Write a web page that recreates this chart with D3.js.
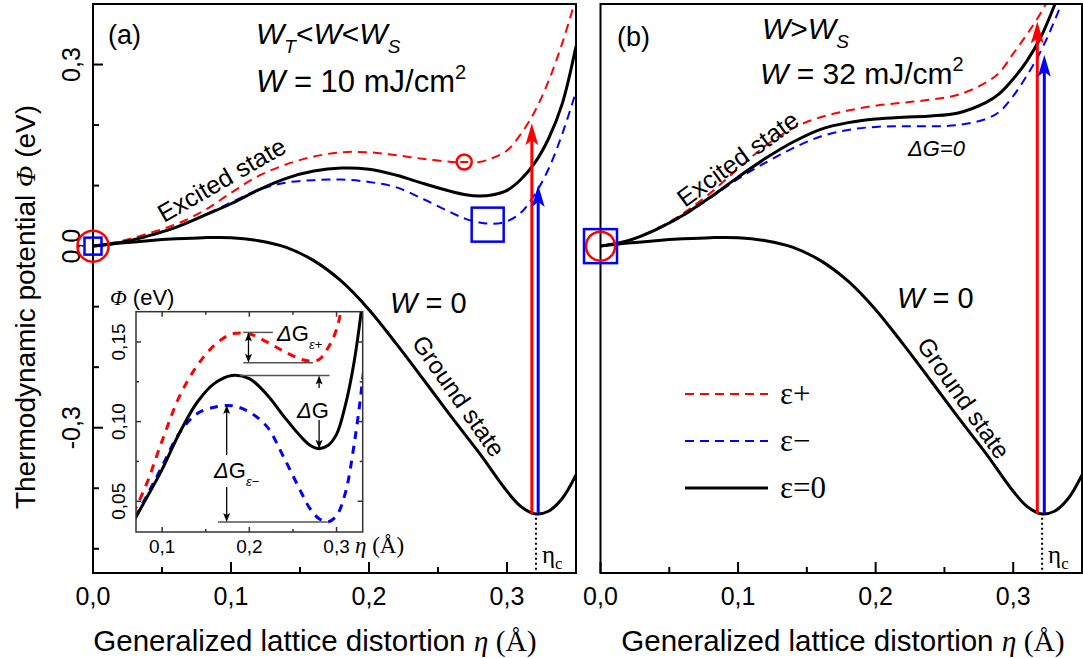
<!DOCTYPE html>
<html><head><meta charset="utf-8">
<script src="https://cdn.jsdelivr.net/npm/d3@7"></script>
<style>
body{margin:0;background:#fff;}
svg{display:block;font-family:"Liberation Sans",Arial,sans-serif;}
</style></head><body>
<svg id="c" width="1083" height="658"></svg>
<script>
// ---------------- DATA ----------------
const etaGround = [0,0.02,0.04,0.06,0.08,0.10,0.12,0.14,0.16,0.18,0.20,0.22,0.24,0.26,0.28,0.30,0.31,0.32,0.33,0.34,0.35];
const phiGround = [0,0.005,0.009,0.012,0.014,0.014,0.009,-0.002,-0.024,-0.058,-0.105,-0.162,-0.222,-0.283,-0.342,-0.405,-0.430,-0.442,-0.438,-0.417,-0.378];

const etaExcA = [0,0.02,0.04,0.06,0.08,0.10,0.12,0.14,0.16,0.18,0.20,0.22,0.24,0.26,0.27,0.28,0.29,0.30,0.31,0.32,0.33,0.34,0.35];
const phiExcA0     = [0,0.006,0.017,0.031,0.050,0.070,0.093,0.112,0.124,0.129,0.127,0.117,0.103,0.090,0.085,0.083,0.085,0.092,0.110,0.137,0.177,0.235,0.330];
const phiExcAplus  = [0,0.008,0.021,0.036,0.058,0.088,0.116,0.135,0.148,0.155,0.155,0.150,0.144,0.139,0.138,0.139,0.146,0.158,0.185,0.222,0.272,0.335,0.410];
const phiExcAminus = [0,0.006,0.016,0.031,0.051,0.072,0.093,0.105,0.109,0.110,0.106,0.097,0.077,0.055,0.045,0.039,0.037,0.041,0.055,0.085,0.127,0.185,0.255];

const etaExcB = [0,0.02,0.04,0.06,0.08,0.10,0.12,0.14,0.16,0.18,0.20,0.22,0.24,0.26,0.28,0.29,0.30,0.31,0.32,0.33,0.34,0.35];
const phiExcB0     = [0,0.009,0.027,0.051,0.081,0.114,0.145,0.172,0.193,0.204,0.210,0.213,0.215,0.220,0.237,0.252,0.276,0.306,0.345,0.398,0.460,0.530];
const phiExcBplus  = [0,0.009,0.028,0.054,0.088,0.128,0.166,0.195,0.213,0.224,0.232,0.237,0.242,0.250,0.270,0.287,0.318,0.350,0.385,0.430,0.500,0.570];
const phiExcBminus = [0,0.009,0.027,0.050,0.080,0.111,0.138,0.162,0.181,0.192,0.197,0.198,0.198,0.200,0.210,0.222,0.248,0.282,0.322,0.372,0.430,0.500];

const xTicksMajor = [0,0.1,0.2,0.3];
const xTicksMinor = [0.05,0.15,0.25];
const yTicksMajor = [-0.3,0,0.3];
const yTicksMinor = [-0.5,-0.4,-0.2,-0.1,0.1,0.2];
const insetXMajor = [0.1,0.2,0.3];
const insetXMinor = [0.15,0.25];
const insetYMajor = [0.05,0.10,0.15];
const insetYMinor = [0.075,0.125];

const etaC = 0.321, phiC = -0.442;
const arrowsA = [{eta:0.318, top:0.203, c:"#ff0000"}, {eta:0.3226, top:0.101, c:"#0000ff"}];
const arrowsB = [{eta:0.3175, top:0.371, c:"#ff0000"}, {eta:0.3226, top:0.316, c:"#0000ff"}];
const markA = {circle:[0.269,0.139], square:[0.286,0.0355]};

// inset ΔG levels
const dGplus = {eta:0.199, hi:0.156, lo:0.137, x0:0.193, x1hi:0.227, x1lo:0.273};
const dG0 = {eta:0.280, hi:0.129, lo:0.083, x0:0.189, x1:0.292};
const dGminus = {eta:0.174, hi:0.1105, lo:0.037, x0:0.164, x1:0.290};

// ---------------- SCALES ----------------
const RED="#ff0000", BLUE="#0000ff";
const svg = d3.select("#c");
const y = d3.scaleLinear().domain([-0.54,0.40]).range([573,4]);
const xA = d3.scaleLinear().domain([0,0.35]).range([93,576]);
const xB = d3.scaleLinear().domain([0,0.35]).range([600.5,1082]);
const xI = d3.scaleLinear().domain([0.07,0.33]).range([136,362.7]);
const yI = d3.scaleLinear().domain([0.0307,0.169]).range([532,311.7]);
const loc = d3.formatLocale({decimal:",",thousands:".",grouping:[3],currency:["",""],minus:"-"});
const f1 = loc.format(".1f"), f2 = loc.format(".2f");
const zip = (a,b)=>a.map((v,i)=>[v,b[i]]);

const defs = svg.append("defs");
function clip(id,x0,y0,x1,y1){
  defs.append("clipPath").attr("id",id).append("rect").attr("x",x0).attr("y",y0).attr("width",x1-x0).attr("height",y1-y0);
}
clip("cA",93,4,576,573); clip("cB",600.5,4,1082,573); clip("cI",136,311.7,362.7,532);

function curve(g,x,yy,data,color,w,dash,clipId){
  const line = d3.line().x(d=>x(d[0])).y(d=>yy(d[1])).curve(d3.curveCatmullRom.alpha(0.5));
  g.append("path").attr("d",line(data)).attr("fill","none").attr("stroke",color)
   .attr("stroke-width",w).attr("stroke-dasharray",dash||null).attr("clip-path",`url(#${clipId})`);
}
function head(g,x,yt,dir,color,len,hw,notch){
  const b = yt+dir*len, n = yt+dir*(len-notch);
  g.append("path").attr("d",`M${x},${yt}L${x-hw},${b}L${x},${n}L${x+hw},${b}Z`).attr("fill",color);
}

function panel(x,clipId,excX,e0,ep,em,arrows,titleCx){
  const g = svg.append("g");
  curve(g,x,y,zip(etaGround,phiGround),"#000",3,null,clipId);
  curve(g,x,y,zip(excX,ep),RED,2,"9,6",clipId);
  curve(g,x,y,zip(excX,em),BLUE,2,"9,6",clipId);
  curve(g,x,y,zip(excX,e0),"#000",3,null,clipId);
  arrows.forEach(a=>{
    g.append("line").attr("x1",x(a.eta)).attr("x2",x(a.eta)).attr("y1",y(phiC)).attr("y2",y(a.top)+15)
      .attr("stroke",a.c).attr("stroke-width",3);
    head(g,x(a.eta),y(a.top),1,a.c,22,6.5,5);
  });
  g.append("line").attr("x1",x(etaC)).attr("x2",x(etaC)).attr("y1",y(phiC)+4).attr("y2",573)
    .attr("stroke","#000").attr("stroke-width",2).attr("stroke-dasharray","2,3");
  const t = g.append("text").attr("x",x(etaC)+6).attr("y",563).attr("font-family","Liberation Serif").attr("font-size",25);
  t.append("tspan").text("η");
  t.append("tspan").attr("dy",6).attr("font-size",17).text("c");
  const [r0,r1] = x.range();
  g.append("rect").attr("x",r0).attr("y",4).attr("width",r1-r0).attr("height",569)
    .attr("fill","none").attr("stroke","#000").attr("stroke-width",2);
  xTicksMajor.forEach(v=>g.append("line").attr("x1",x(v)).attr("x2",x(v)).attr("y1",573).attr("y2",562).attr("stroke","#000").attr("stroke-width",2));
  xTicksMinor.forEach(v=>g.append("line").attr("x1",x(v)).attr("x2",x(v)).attr("y1",573).attr("y2",567).attr("stroke","#000").attr("stroke-width",2));
  xTicksMajor.forEach(v=>g.append("text").attr("x",x(v)).attr("y",605).attr("text-anchor","middle").attr("font-size",25).text(f1(v)));
  const xt = g.append("text").attr("x",titleCx).attr("y",651).attr("text-anchor","middle").attr("font-size",29.5);
  xt.append("tspan").text("Generalized lattice distortion ");
  xt.append("tspan").attr("font-family","Liberation Serif").attr("font-style","italic").text("η");
  xt.append("tspan").attr("font-family","Liberation Serif").text(" (Å)");
  return g;
}

const gA = panel(xA,"cA",etaExcA,phiExcA0,phiExcAplus,phiExcAminus,arrowsA,315);
const gB = panel(xB,"cB",etaExcB,phiExcB0,phiExcBplus,phiExcBminus,arrowsB,843);

yTicksMajor.forEach(v=>gA.append("line").attr("x1",93).attr("x2",103).attr("y1",y(v)).attr("y2",y(v)).attr("stroke","#000").attr("stroke-width",2));
yTicksMinor.forEach(v=>gA.append("line").attr("x1",93).attr("x2",99).attr("y1",y(v)).attr("y2",y(v)).attr("stroke","#000").attr("stroke-width",2));
yTicksMajor.forEach(v=>gA.append("text").attr("transform",`translate(80,${y(v)}) rotate(-90)`).attr("text-anchor","middle").attr("font-size",25).text(f1(v)));
const yt = svg.append("text").attr("transform",`translate(35,307) rotate(-90)`).attr("text-anchor","middle").attr("font-size",28);
yt.append("tspan").text("Thermodynamic potential ");
yt.append("tspan").attr("font-family","Liberation Serif").attr("font-style","italic").text("Φ");
yt.append("tspan").text(" (eV)");

// markers at origin
svg.append("circle").attr("cx",xA(0)).attr("cy",y(0)).attr("r",15.5).attr("fill","none").attr("stroke",RED).attr("stroke-width",2.5);
svg.append("rect").attr("x",xA(0)-8.5).attr("y",y(0)-8.5).attr("width",17).attr("height",17).attr("fill","none").attr("stroke",BLUE).attr("stroke-width",2.5);
svg.append("rect").attr("x",xB(0)-16.5).attr("y",y(0)-17).attr("width",33).attr("height",34).attr("fill","none").attr("stroke",BLUE).attr("stroke-width",2.5);
svg.append("circle").attr("cx",xB(0)).attr("cy",y(0)).attr("r",14.5).attr("fill","none").attr("stroke",RED).attr("stroke-width",2.5);
// markers panel a
svg.append("circle").attr("cx",xA(markA.circle[0])).attr("cy",y(markA.circle[1])).attr("r",7.5).attr("fill","#fff").attr("stroke",RED).attr("stroke-width",2.5);
svg.append("line").attr("x1",xA(markA.circle[0])-4).attr("x2",xA(markA.circle[0])+4).attr("y1",y(markA.circle[1])).attr("y2",y(markA.circle[1])).attr("stroke",RED).attr("stroke-width",2);
svg.append("rect").attr("x",xA(markA.square[0])-16).attr("y",y(markA.square[1])-17).attr("width",32).attr("height",34).attr("fill","none").attr("stroke",BLUE).attr("stroke-width",2.5);

// ---------- texts ----------
function txt(x,yv,size,parts,extra){
  const t = svg.append("text").attr("x",x).attr("y",yv).attr("font-size",size);
  if(extra) t.attr("transform",extra);
  parts.forEach(p=>{
    const s = t.append("tspan").text(p.t);
    if(p.i) s.attr("font-style","italic");
    if(p.s) s.attr("font-size",p.s);
    if(p.dy) s.attr("dy",p.dy);
    if(p.f) s.attr("font-family",p.f);
  });
  return t;
}
txt(108,44,27,[{t:"(a)"}]);
txt(617,46,27,[{t:"(b)"}]);
txt(256,44,30,[{t:"W",i:1},{t:"T",i:1,s:19,dy:9},{t:"<",dy:-9},{t:"W",i:1},{t:"<"},{t:"W",i:1},{t:"S",i:1,s:19,dy:9}]);
txt(256,92,31,[{t:"W",i:1},{t:" = 10 mJ/cm"},{t:"2",s:20,dy:-13}]);
txt(762,39,30,[{t:"W",i:1},{t:">"},{t:"W",i:1},{t:"S",i:1,s:19,dy:9}]);
txt(760,84,30,[{t:"W",i:1},{t:" = 32 mJ/cm"},{t:"2",s:20,dy:-13}]);
txt(390,313,29,[{t:"W",i:1},{t:" = 0"}]);
txt(897,308,29,[{t:"W",i:1},{t:" = 0"}]);
txt(0,0,25,[{t:"Excited state"}],"translate(164,223) rotate(-30)");
txt(0,0,25,[{t:"Excited state"}],"translate(685,208) rotate(-36)");
txt(0,0,24.5,[{t:"Ground state"}],"translate(411,343) rotate(55)");
txt(0,0,24.5,[{t:"Ground state"}],"translate(916,345) rotate(55)");
txt(908,156,22,[{t:"ΔG=0",i:1}]);

// legend
const legend = [{c:RED,d:"9,6",l:"ε+"},{c:BLUE,d:"9,6",l:"ε−"},{c:"#000",d:null,l:"ε=0"}];
legend.forEach((e,i)=>{
  const yy = 394+i*47;
  svg.append("line").attr("x1",685).attr("x2",768).attr("y1",yy).attr("y2",yy).attr("stroke",e.c)
    .attr("stroke-width",e.d?2:3).attr("stroke-dasharray",e.d);
  svg.append("text").attr("x",780).attr("y",yy+10).attr("font-family","Liberation Serif").attr("font-size",31).text(e.l);
});

// ---------- inset ----------
const gi = svg.append("g");
gi.append("rect").attr("x",136).attr("y",311.7).attr("width",226.7).attr("height",220.3).attr("fill","#fff");
curve(gi,xI,yI,zip(etaExcA,phiExcAplus),RED,3,"8,7","cI");
curve(gi,xI,yI,zip(etaExcA,phiExcAminus),BLUE,3,"8,7","cI");
curve(gi,xI,yI,zip(etaExcA,phiExcA0),"#000",3,null,"cI");
gi.append("rect").attr("x",136).attr("y",311.7).attr("width",226.7).attr("height",220.3).attr("fill","none").attr("stroke","#333").attr("stroke-width",1.5);
insetXMajor.concat(insetXMinor).forEach(v=>{
  const L = insetXMajor.includes(v)?5:3;
  gi.append("line").attr("x1",xI(v)).attr("x2",xI(v)).attr("y1",532).attr("y2",532-L).attr("stroke","#333").attr("stroke-width",1.5);
  gi.append("line").attr("x1",xI(v)).attr("x2",xI(v)).attr("y1",311.7).attr("y2",311.7+L).attr("stroke","#333").attr("stroke-width",1.5);
});
insetYMajor.concat(insetYMinor).forEach(v=>{
  const L = insetYMajor.includes(v)?5:3;
  gi.append("line").attr("x1",136).attr("x2",136+L).attr("y1",yI(v)).attr("y2",yI(v)).attr("stroke","#333").attr("stroke-width",1.5);
  gi.append("line").attr("x1",362.7).attr("x2",362.7-L).attr("y1",yI(v)).attr("y2",yI(v)).attr("stroke","#333").attr("stroke-width",1.5);
});
insetXMajor.forEach(v=>gi.append("text").attr("x",xI(v)).attr("y",553).attr("text-anchor","middle").attr("font-size",19).text(f1(v)));
insetYMajor.forEach(v=>gi.append("text").attr("transform",`translate(125,${yI(v)}) rotate(-90)`).attr("text-anchor","middle").attr("font-size",19).text(f2(v)));
txt(355,553,23,[{t:"η",i:1,f:"Liberation Serif"},{t:" (Å)",f:"Liberation Serif"}]);
txt(110,305,22,[{t:"Φ",i:1,f:"Liberation Serif"},{t:" (eV)"}]);

// ΔG annotations
const gl = "#555";
function hline(x0,x1,v){gi.append("line").attr("x1",xI(x0)).attr("x2",xI(x1)).attr("y1",yI(v)).attr("y2",yI(v)).attr("stroke",gl).attr("stroke-width",1.5);}
function vseg(eta,y0,y1){gi.append("line").attr("x1",xI(eta)).attr("x2",xI(eta)).attr("y1",y0).attr("y2",y1).attr("stroke","#000").attr("stroke-width",1.3);}
hline(dGplus.x0,dGplus.x1hi,dGplus.hi); hline(dGplus.x0,dGplus.x1lo,dGplus.lo);
vseg(dGplus.eta,yI(dGplus.hi)+3,yI(dGplus.lo)-3);
head(gi,xI(dGplus.eta),yI(dGplus.hi),1,"#000",9,3.5,2);
head(gi,xI(dGplus.eta),yI(dGplus.lo),-1,"#000",9,3.5,2);
txt(277,341,22,[{t:"Δ",i:1},{t:"G"},{t:"ε+",i:1,s:13,dy:8}]);
hline(dG0.x0,dG0.x1,dG0.hi);
vseg(dG0.eta,yI(dG0.hi)+3,388); vseg(dG0.eta,420,yI(dG0.lo)-3);
head(gi,xI(dG0.eta),yI(dG0.hi),1,"#000",9,3.5,2);
head(gi,xI(dG0.eta),yI(dG0.lo),-1,"#000",9,3.5,2);
txt(297,418,22,[{t:"Δ",i:1},{t:"G"}]);
hline(dGminus.x0,dGminus.x1,dGminus.lo);
vseg(dGminus.eta,yI(dGminus.hi)+3,455); vseg(dGminus.eta,487,yI(dGminus.lo)-3);
head(gi,xI(dGminus.eta),yI(dGminus.hi),1,"#000",9,3.5,2);
head(gi,xI(dGminus.eta),yI(dGminus.lo),-1,"#000",9,3.5,2);
txt(214,478,22,[{t:"Δ",i:1},{t:"G"},{t:"ε−",i:1,s:13,dy:8}]);
</script></body></html>
